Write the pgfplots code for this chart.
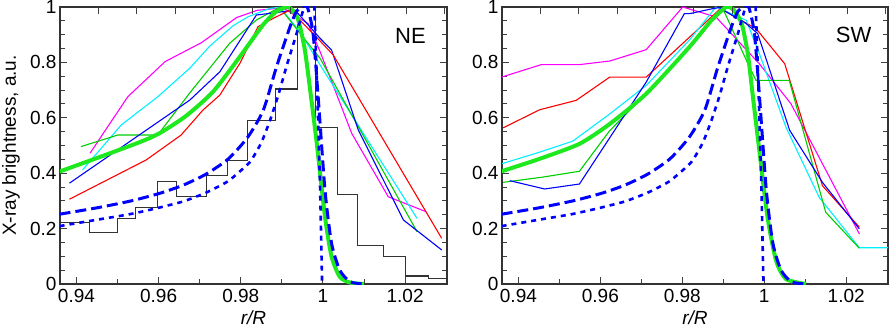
\documentclass[border=0pt]{standalone}
\usepackage{fontspec}
\setmainfont{Liberation Sans}
\usepackage{pgfplots}
\pgfplotsset{compat=1.18}
\definecolor{mymag}{RGB}{255,0,255}
\definecolor{mycyan}{RGB}{0,240,255}
\definecolor{mygreen}{RGB}{0,205,0}
\definecolor{thickgreen}{RGB}{30,232,30}
\definecolor{myred}{RGB}{255,0,0}
\definecolor{myblue}{RGB}{0,0,255}
\pgfplotsset{
  panel/.style={
    scale only axis, height=277bp,
    xmin=0.936, xmax=1.0302, ymin=0, ymax=1,
    xtick={0.94,0.96,0.98,1,1.02}, ytick={0,0.2,0.4,0.6,0.8,1},
    minor x tick num=1, minor y tick num=3,
    xtick pos=left,
    tick align=inside,
    major tick length=7bp, minor tick length=5bp,
    tick style={line width=1bp, black!75},
    axis line style={line width=1.3bp, black!80},
    ticklabel style={font=\fontsize{19bp}{22bp}\selectfont},
    /pgf/number format/assume math mode=true,
    xticklabel style={yshift=-2bp},
    label style={font=\fontsize{19bp}{22bp}\selectfont},
    xlabel={\textit{r/R}},
    xlabel style={at={(axis description cs:0.5,-0.123)}, anchor=center},
    thin/.style={line width=1.1bp},
    model/.style={line width=4bp, thickgreen, smooth, tension=0.4},
    dashedm/.style={line width=3bp, myblue, dash pattern=on 11bp off 5bp, smooth, tension=0.4},
    dottedm/.style={line width=2.6bp, myblue, dash pattern=on 5bp off 5bp, smooth, tension=0.3},
  },
  topticks/.style={
    scale only axis, height=277bp,
    xmin=0.936, xmax=1.0302, ymin=0, ymax=1,
    xtick={0.94537,0.95474,0.96410,0.97347,0.98283,0.99220,1.00157,1.01093,1.02030,1.02966},
    xticklabels={}, ytick=\empty, xtick pos=right,
    minor x tick num=0,
    tick align=inside, major tick length=7bp,
    tick style={line width=1bp, black!75},
    axis line style={draw=none},
  },
}
\begin{document}
\begin{tikzpicture}
\path[use as bounding box] (-60bp,-44bp) rectangle (829bp,284bp);
% ---------------- NE ----------------
\begin{axis}[panel, at={(0,0)}, anchor=south west, width=387bp,
  ylabel={X-ray brightness, a.u.},
  ylabel style={at={(axis description cs:-0.127,0.5)}, anchor=center, rotate=0}]
\addplot[const plot, black!80, line width=1.1bp] coordinates {
(0.9360,0.221) (0.9432,0.187) (0.9501,0.237) (0.9544,0.276) (0.9597,0.369)
(0.9643,0.315) (0.9716,0.393) (0.9767,0.446) (0.9816,0.590) (0.9884,0.704)
(0.9938,1.2) (0.9983,0.566) (1.0036,0.324) (1.0084,0.138) (1.0147,0.100)
(1.0201,0.029) (1.0257,0.019) (1.0310,0.019)};
\addplot[thin, mymag] coordinates {
(0.9433,0.472) (0.9525,0.676) (0.9616,0.803) (0.9704,0.871) (0.9790,0.962)
(0.9840,0.988) (0.9903,0.997) (0.9964,0.940) (0.9993,0.839) (1.0070,0.544)
(1.0159,0.315) (1.0251,0.261)};
\addplot[thin, mycyan] coordinates {
(0.9415,0.412) (0.9509,0.574) (0.9598,0.676) (0.9676,0.779) (0.9724,0.858)
(0.9781,0.932) (0.9818,0.965) (0.9871,0.995) (0.9895,0.999) (0.9944,0.911)
(0.9993,0.791) (1.0229,0.237)};
\addplot[thin, mygreen] coordinates {
(0.9411,0.496) (0.9501,0.538) (0.9598,0.538) (0.9676,0.690) (0.9773,0.869)
(0.9838,0.953) (0.9895,0.999) (0.9944,0.905) (0.9993,0.815) (1.0229,0.189)};
\addplot[thin, myblue] coordinates {
(0.9383,0.364) (0.9676,0.664) (0.9749,0.766) (0.9838,0.971) (0.9871,0.977)
(0.9932,0.989) (0.9993,0.887) (1.0021,0.845) (1.0086,0.556) (1.0196,0.231)
(1.0289,0.123)};
\addplot[thin, myred] coordinates {
(0.9383,0.306) (0.9570,0.448) (0.9655,0.538) (0.9708,0.628) (0.9749,0.682)
(0.9798,0.797) (0.9842,0.929) (0.9879,0.959) (0.9920,0.989) (0.9985,0.890)
(1.0025,0.827) (1.0289,0.165)};
\addplot[model] coordinates {
(0.9359,0.406) (0.9456,0.458) (0.9554,0.512) (0.9602,0.544) (0.9667,0.607)
(0.9733,0.695) (0.9798,0.821) (0.9854,0.935) (0.9885,0.982) (0.9911,1.0)
(0.9925,0.99) (0.9940,0.953) (0.9956,0.845) (0.9972,0.664) (0.9985,0.508)
(1.0005,0.243) (1.0021,0.099) (1.0041,0.026) (1.0066,0.005) (1.0100,0.0)};
\addplot[dashedm] coordinates {
(0.9359,0.252) (0.9450,0.275) (0.9533,0.300) (0.9602,0.327) (0.9660,0.357)
(0.9716,0.397) (0.9770,0.452) (0.9817,0.530) (0.9855,0.628) (0.9887,0.784)
(0.9920,0.929) (0.9936,0.985) (0.9950,1.0) (0.9962,1.0) (0.9976,0.904)
(0.9989,0.664) (1.0005,0.339) (1.0021,0.147) (1.0041,0.05) (1.0066,0.008)
(1.0100,0)};
\addplot[dottedm] coordinates {
(0.9359,0.209) (0.9450,0.232) (0.9530,0.252) (0.9594,0.273) (0.9660,0.298)
(0.9716,0.330) (0.9770,0.372) (0.9822,0.440) (0.9850,0.510) (0.9871,0.590)
(0.9891,0.680) (0.9911,0.784) (0.9936,0.905) (0.9952,0.989) (0.9962,1.02)
(0.9978,1.02) (0.9986,0.70) (0.9993,0.35) (0.9998,0.0)};
\node[font=\fontsize{22bp}{24bp}\selectfont] at (axis cs:1.0213,0.895) {NE};
\end{axis}
\begin{axis}[topticks, at={(0,0)}, anchor=south west, width=387bp]
\end{axis}
% ---------------- SW ----------------
\begin{axis}[panel, at={(442bp,0)}, anchor=south west, width=386bp]
\addplot[thin, mymag] coordinates {
(0.9359,0.747) (0.9456,0.792) (0.9549,0.792) (0.9623,0.805) (0.9712,0.846)
(0.9801,1.0) (0.9882,0.964) (0.9988,0.795) (1.0065,0.651) (1.0232,0.181)};
\addplot[thin, myred] coordinates {
(0.9363,0.564) (0.9452,0.629) (0.9541,0.663) (0.9623,0.747) (0.9712,0.747)
(0.9893,0.994) (0.9980,0.922) (1.0050,0.795) (1.0142,0.355) (1.0232,0.205)};
\addplot[thin, mycyan] coordinates {
(0.9359,0.434) (0.9452,0.476) (0.9533,0.516) (0.9623,0.614) (0.9712,0.717)
(0.9817,0.880) (0.9882,1.0) (0.9956,0.952) (0.9988,0.832) (1.0053,0.566)
(1.0134,0.313) (1.0232,0.131) (1.0310,0.131)};
\addplot[thin, mygreen] coordinates {
(0.9363,0.367) (0.9460,0.386) (0.9549,0.407) (0.9623,0.554) (0.9712,0.687)
(0.9817,0.855) (0.9899,0.994) (0.9964,0.783) (0.9980,0.735) (1.0061,0.735)
(1.0150,0.259) (1.0232,0.129)};
\addplot[thin, myblue] coordinates {
(0.9379,0.373) (0.9464,0.343) (0.9549,0.361) (0.9712,0.729) (0.9805,0.976)
(0.9818,0.976) (0.9874,0.994) (0.9890,0.998) (0.9956,0.940) (0.9984,0.904)
(1.0062,0.555) (1.0142,0.367) (1.0232,0.199)};
\addplot[model] coordinates {
(0.9359,0.407) (0.9452,0.452) (0.9549,0.506) (0.9623,0.578) (0.9712,0.687)
(0.9817,0.855) (0.9870,0.950) (0.9907,1.0) (0.9925,0.99) (0.9945,0.94)
(0.9960,0.83) (0.9972,0.68) (0.9988,0.482) (1.0008,0.241) (1.0029,0.084)
(1.0053,0.018) (1.0102,0)};
\addplot[dashedm] coordinates {
(0.9359,0.252) (0.9450,0.275) (0.9533,0.300) (0.9602,0.327) (0.9660,0.357)
(0.9716,0.397) (0.9770,0.452) (0.9817,0.530) (0.9855,0.628) (0.9887,0.784)
(0.9920,0.929) (0.9936,0.985) (0.9950,1.0) (0.9962,1.0) (0.9976,0.904)
(0.9989,0.664) (1.0005,0.339) (1.0021,0.147) (1.0041,0.05) (1.0066,0.008)
(1.0100,0)};
\addplot[dottedm] coordinates {
(0.9359,0.209) (0.9450,0.232) (0.9530,0.252) (0.9594,0.273) (0.9660,0.298)
(0.9716,0.330) (0.9770,0.372) (0.9822,0.440) (0.9850,0.510) (0.9871,0.590)
(0.9891,0.680) (0.9911,0.784) (0.9936,0.905) (0.9952,0.989) (0.9962,1.02)
(0.9978,1.02) (0.9986,0.70) (0.9993,0.35) (0.9998,0.0)};
\node[font=\fontsize{22bp}{24bp}\selectfont] at (axis cs:1.0218,0.898) {SW};
\end{axis}
\begin{axis}[topticks, at={(442bp,0)}, anchor=south west, width=386bp]
\end{axis}
\end{tikzpicture}
\end{document}
